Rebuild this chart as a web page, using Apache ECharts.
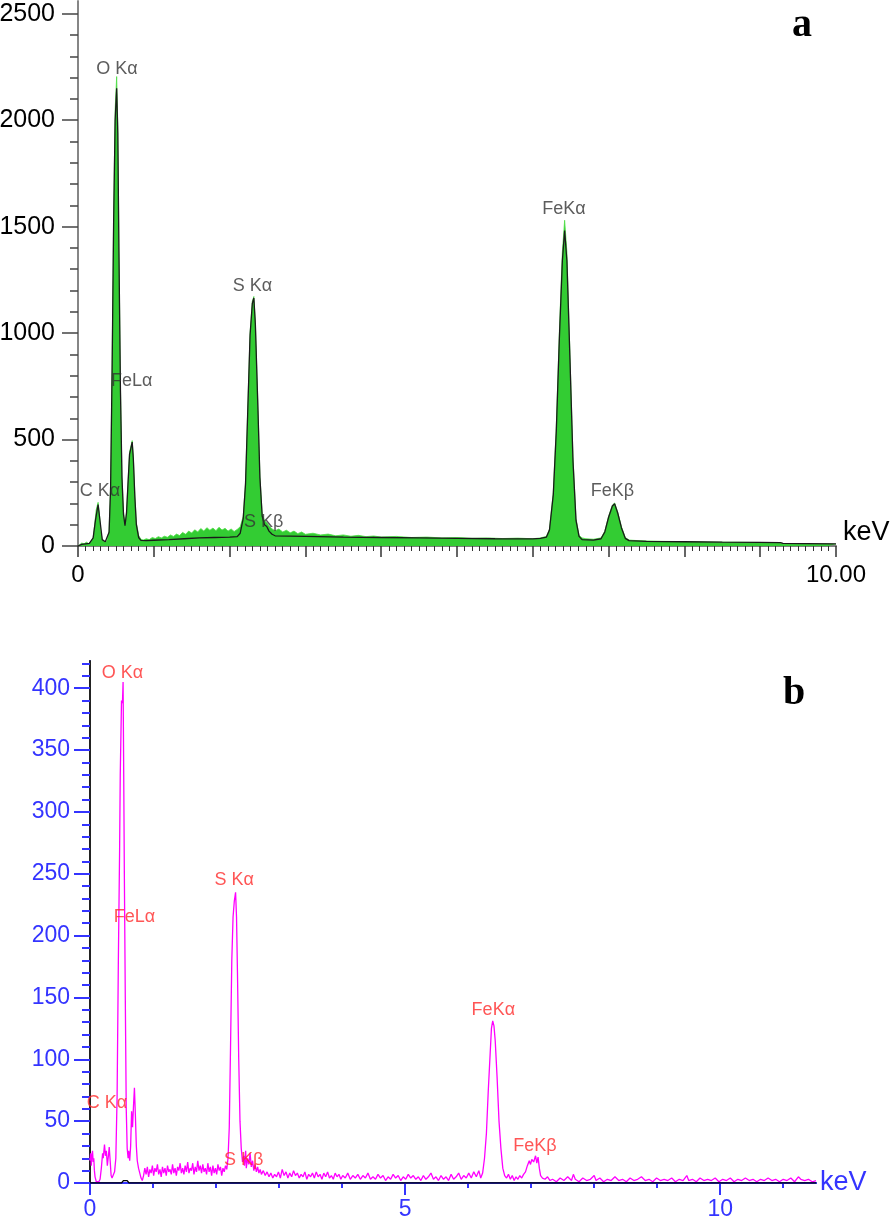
<!DOCTYPE html>
<html>
<head>
<meta charset="utf-8">
<script src="https://cdn.jsdelivr.net/npm/echarts@6/dist/echarts.min.js"></script>
<style>
html,body{margin:0;padding:0;background:#fff;}
#chart{width:894px;height:1218px;}
</style>
</head>
<body>
<div id="chart"></div>
<script>
// ---------- DATA ----------
// Panel a: measured spectrum (green) [keV, counts]
const specA = [
[0,0],[0.02,8],[0.05,14],[0.08,10],[0.11,18],[0.14,12],[0.17,20],[0.2,40],[0.22,100],[0.24,170],[0.265,205],[0.28,160],[0.30,70],[0.32,30],[0.35,20],[0.38,24],[0.41,70],[0.43,280],[0.45,850],[0.47,1550],[0.49,2050],[0.51,2205],[0.525,1980],[0.54,1400],[0.56,750],[0.58,330],[0.60,160],[0.62,100],[0.64,160],[0.66,300],[0.68,440],[0.715,495],[0.73,420],[0.75,240],[0.77,110],[0.8,50],[0.83,32],[0.86,28],[0.9,34],[0.94,30],[0.98,40],[1.02,35],[1.06,44],[1.1,38],[1.14,46],[1.18,41],[1.22,52],[1.26,45],[1.3,56],[1.34,49],[1.38,64],[1.42,55],[1.46,70],[1.5,61],[1.54,76],[1.58,66],[1.62,82],[1.66,70],[1.7,86],[1.74,74],[1.78,84],[1.82,72],[1.86,88],[1.9,75],[1.94,83],[1.98,70],[2.02,80],[2.06,68],[2.1,78],[2.14,90],[2.18,140],[2.21,300],[2.24,650],[2.27,1000],[2.30,1150],[2.32,1172],[2.34,1050],[2.37,700],[2.40,330],[2.43,150],[2.46,120],[2.49,110],[2.52,95],[2.56,80],[2.6,72],[2.65,80],[2.7,66],[2.75,74],[2.8,62],[2.85,70],[2.9,58],[2.95,66],[3.0,55],[3.1,60],[3.2,52],[3.3,56],[3.4,48],[3.5,52],[3.6,46],[3.7,50],[3.8,44],[3.9,47],[4.0,42],[4.2,45],[4.4,40],[4.6,42],[4.8,38],[5.0,40],[5.2,36],[5.4,38],[5.6,35],[5.8,37],[6.0,34],[6.1,38],[6.18,45],[6.22,80],[6.27,250],[6.31,560],[6.35,1000],[6.39,1380],[6.42,1530],[6.45,1380],[6.49,900],[6.53,420],[6.57,130],[6.61,50],[6.65,38],[6.7,34],[6.8,32],[6.9,38],[6.95,70],[7.0,140],[7.05,192],[7.08,202],[7.12,160],[7.17,90],[7.22,40],[7.27,28],[7.35,26],[7.5,24],[7.7,22],[7.9,21],[8.1,20],[8.3,19],[8.5,18],[8.7,18],[8.9,17],[9.1,16],[9.25,15],[9.3,10],[9.5,11],[9.7,9],[9.9,10],[10.0,9]
];
// Panel a: fitted / outline spectrum (black)
const fitA = [
[0,0],[0.05,8],[0.1,10],[0.15,12],[0.2,38],[0.23,120],[0.265,195],[0.29,120],[0.32,30],[0.36,20],[0.41,65],[0.43,270],[0.45,830],[0.47,1520],[0.49,2000],[0.51,2150],[0.525,1940],[0.54,1380],[0.56,730],[0.58,320],[0.60,150],[0.62,95],[0.64,155],[0.66,295],[0.68,430],[0.715,488],[0.73,410],[0.75,230],[0.77,100],[0.8,40],[0.83,26],[0.9,25],[1.0,27],[1.2,30],[1.4,34],[1.6,38],[1.8,40],[2.0,42],[2.1,44],[2.14,60],[2.18,130],[2.21,290],[2.24,640],[2.27,990],[2.30,1140],[2.32,1165],[2.34,1040],[2.37,690],[2.40,320],[2.43,140],[2.46,100],[2.49,92],[2.52,70],[2.56,55],[2.6,48],[3.0,45],[3.5,42],[4.0,40],[4.5,38],[5.0,36],[5.5,34],[6.0,33],[6.1,36],[6.18,42],[6.22,75],[6.27,240],[6.31,540],[6.35,970],[6.39,1340],[6.42,1482],[6.45,1340],[6.49,880],[6.53,400],[6.57,120],[6.61,45],[6.65,30],[6.8,28],[6.9,34],[6.95,66],[7.0,135],[7.05,188],[7.08,198],[7.12,155],[7.17,85],[7.22,36],[7.27,25],[7.5,22],[8.0,20],[8.5,18],[9.0,17],[9.27,16],[9.3,12],[9.6,11],[10.0,10]
];
// Panel b: measured spectrum (magenta)
const specB = [
[0,18],[0.01,24],[0.02,14],[0.03,22],[0.04,26],[0.05,17],[0.06,20],[0.07,10],[0.08,5],[0.1,1],[0.12,0],[0.14,1],[0.16,3],[0.18,12],[0.2,24],[0.21,20],[0.23,31],[0.245,22],[0.26,26],[0.275,14],[0.29,21],[0.305,29],[0.32,18],[0.335,6],[0.35,4],[0.37,5],[0.39,9],[0.41,20],[0.43,70],[0.45,180],[0.47,270],[0.48,330],[0.5,390],[0.515,388],[0.525,405],[0.535,330],[0.545,250],[0.56,150],[0.575,60],[0.59,28],[0.605,20],[0.615,26],[0.63,18],[0.645,30],[0.66,58],[0.675,45],[0.69,62],[0.705,77],[0.72,55],[0.735,30],[0.75,18],[0.77,12],[0.79,8],[0.81,4],[0.83,2],[0.85,6],[0.87,12],[0.89,7],[0.91,13],[0.93,5],[0.95,11],[0.97,8],[0.99,14],[1.01,6],[1.03,12],[1.05,9],[1.07,15],[1.09,7],[1.11,11],[1.13,5],[1.15,13],[1.17,8],[1.19,12],[1.21,6],[1.23,14],[1.25,9],[1.27,11],[1.29,7],[1.31,15],[1.33,8],[1.35,12],[1.37,6],[1.39,13],[1.41,10],[1.43,16],[1.45,8],[1.47,12],[1.49,7],[1.51,14],[1.53,9],[1.55,17],[1.57,8],[1.59,12],[1.61,10],[1.63,16],[1.65,7],[1.67,13],[1.69,9],[1.71,18],[1.73,10],[1.75,14],[1.77,8],[1.79,15],[1.81,9],[1.83,12],[1.85,7],[1.87,16],[1.89,9],[1.91,13],[1.93,6],[1.95,14],[1.97,8],[1.99,12],[2.01,7],[2.03,15],[2.05,10],[2.07,13],[2.09,6],[2.11,12],[2.13,9],[2.15,14],[2.17,11],[2.19,20],[2.21,45],[2.23,110],[2.25,180],[2.27,215],[2.29,228],[2.31,235],[2.325,215],[2.34,170],[2.36,100],[2.38,50],[2.40,28],[2.42,17],[2.44,22],[2.45,14],[2.47,26],[2.48,12],[2.50,20],[2.52,15],[2.54,24],[2.56,13],[2.58,18],[2.60,10],[2.62,15],[2.64,9],[2.66,13],[2.68,8],[2.70,11],[2.72,7],[2.75,10],[2.78,6],[2.81,9],[2.84,5],[2.87,8],[2.90,4],[2.93,7],[2.96,5],[2.99,9],[3.02,4],[3.05,11],[3.08,6],[3.11,9],[3.14,4],[3.17,8],[3.2,5],[3.23,10],[3.26,6],[3.29,8],[3.32,4],[3.35,7],[3.38,5],[3.41,9],[3.44,3],[3.47,7],[3.5,5],[3.53,8],[3.56,4],[3.59,9],[3.62,5],[3.65,7],[3.68,3],[3.71,8],[3.74,5],[3.77,9],[3.8,4],[3.83,6],[3.86,3],[3.89,8],[3.92,5],[3.95,7],[3.98,3],[4.01,6],[4.05,4],[4.09,8],[4.13,3],[4.17,6],[4.21,4],[4.25,7],[4.29,3],[4.33,6],[4.37,4],[4.41,8],[4.45,3],[4.49,5],[4.53,3],[4.57,7],[4.61,4],[4.65,6],[4.69,2],[4.73,5],[4.77,3],[4.81,7],[4.85,4],[4.89,6],[4.93,2],[4.97,5],[5.01,3],[5.05,7],[5.09,4],[5.13,6],[5.17,3],[5.21,5],[5.25,2],[5.29,6],[5.33,3],[5.37,5],[5.41,8],[5.45,3],[5.49,5],[5.53,2],[5.57,6],[5.61,3],[5.65,5],[5.69,2],[5.73,7],[5.77,3],[5.81,5],[5.85,8],[5.89,3],[5.93,6],[5.97,4],[6.01,8],[6.05,4],[6.09,9],[6.13,5],[6.17,10],[6.2,4],[6.23,8],[6.26,20],[6.29,40],[6.32,75],[6.35,105],[6.37,125],[6.39,131],[6.41,127],[6.43,115],[6.46,85],[6.49,50],[6.52,28],[6.55,12],[6.58,6],[6.61,4],[6.64,7],[6.67,3],[6.70,6],[6.73,2],[6.76,5],[6.79,3],[6.82,6],[6.85,4],[6.88,7],[6.91,9],[6.94,14],[6.97,18],[6.99,15],[7.01,19],[7.04,17],[7.07,22],[7.09,16],[7.11,21],[7.13,12],[7.15,6],[7.18,4],[7.22,3],[7.26,5],[7.3,2],[7.34,3],[7.4,1],[7.46,4],[7.52,2],[7.58,5],[7.64,2],[7.67,7],[7.7,3],[7.76,1],[7.82,4],[7.88,2],[7.94,3],[8.0,6],[8.03,2],[8.09,4],[8.15,1],[8.21,3],[8.27,2],[8.33,5],[8.39,2],[8.45,3],[8.51,1],[8.57,4],[8.63,2],[8.69,3],[8.75,5],[8.81,2],[8.87,3],[8.93,1],[8.99,4],[9.05,2],[9.11,3],[9.17,2],[9.23,4],[9.29,1],[9.35,3],[9.41,2],[9.47,6],[9.5,2],[9.56,3],[9.62,1],[9.68,4],[9.74,2],[9.8,3],[9.86,2],[9.92,4],[9.98,1],[10.04,3],[10.1,2],[10.16,4],[10.22,1],[10.28,3],[10.34,2],[10.4,4],[10.46,2],[10.52,3],[10.58,1],[10.64,3],[10.7,2],[10.76,4],[10.82,2],[10.88,3],[10.94,1],[11.0,3],[11.06,2],[11.12,4],[11.18,1],[11.24,5],[11.28,3],[11.34,2],[11.4,3],[11.46,1],[11.52,2]
];
// Panel b: background fit (black)
const fitB = [[0,0],[0.5,0],[0.53,2],[0.56,3.5],[0.59,2],[0.62,0],[11.52,0]];

// Peak labels
const peakNames = ['C Kα','O Kα','FeLα','S Kα','S Kβ','FeKα','FeKβ'];
const peakAx = [0.29, 0.515, 0.71, 2.30, 2.45, 6.41, 7.05];
const peakAy = [256, 2242, 774, 1220, 113, 1583, 256];
const peakBx = [0.27, 0.516, 0.706, 2.29, 2.44, 6.40, 7.06];
const peakBy = [64.6, 412, 215, 245, 18.6, 140, 30];

// Axis ticks
const xMaxA = 10, yMaxA = 2560;
const xMaxB = 11.52, yMaxB = 422;
const yMajorA = [0, 500, 1000, 1500, 2000, 2500];
const xMajorA = [0,1,2,3,4,5,6,7,8,9,10];
const xLabelA = [0, 10];
const yMajorB = [0, 50, 100, 150, 200, 250, 300, 350, 400];
const xMajorB = [0, 5, 10];

function steps(step, max, skip) {
  const out = [];
  for (let i = 1; i * step <= max + 1e-9; i++) {
    const v = +(i * step).toFixed(3);
    if (skip && Math.abs(v / skip - Math.round(v / skip)) < 1e-6) continue;
    out.push(v);
  }
  return out;
}
const yMinorA = steps(100, 2500, 500);
const xMinorA = steps(0.1, 10, 1);
const yMinorB = steps(10, 420, 50);
const xMinorB = steps(1, 11, 5);

// ---------- CHART ----------
const FONT = 'Liberation Sans, Arial, sans-serif';
const BLUE = '#3434ff';
const gridA = {left: 78, top: 1, width: 758, height: 545, outerBoundsMode: 'none', containLabel: false};
const gridB = {left: 90, top: 661, width: 726, height: 522, outerBoundsMode: 'none', containLabel: false};

function bareAxis(extra) {
  return Object.assign({
    type: 'value', splitLine: {show: false},
    axisLabel: {show: false}, axisTick: {show: false}
  }, extra);
}
const plain = v => String(v);

const chart = echarts.init(document.getElementById('chart'), null, {renderer: 'canvas'});
chart.setOption({
  animation: false,
  backgroundColor: '#fff',
  grid: [gridA, Object.assign({}, gridA), gridB, Object.assign({}, gridB)],
  xAxis: [
    bareAxis({gridIndex: 0, position: 'bottom', min: 0, max: xMaxA,
      axisLine: {lineStyle: {color: '#333', width: 1.5}},
      axisTick: {show: true, customValues: xMajorA, length: 11, lineStyle: {color: '#333', width: 1.5}},
      axisLabel: {show: true, customValues: xLabelA, margin: 17, fontSize: 24, color: '#000', fontFamily: FONT,
        formatter: v => v === 10 ? '10.00' : String(v)},
      name: 'keV', nameLocation: 'end', nameGap: 7,
      nameTextStyle: {fontSize: 27, color: '#000', fontFamily: FONT, verticalAlign: 'bottom'}}),
    bareAxis({gridIndex: 0, position: 'top', min: 0, max: xMaxA,
      axisLine: {lineStyle: {color: '#888', width: 1.5}}}),
    bareAxis({gridIndex: 1, position: 'bottom', min: 0, max: xMaxA,
      axisLine: {show: false},
      axisTick: {show: true, customValues: xMinorA, length: 5, lineStyle: {color: '#333', width: 1}}}),
    bareAxis({gridIndex: 2, position: 'bottom', min: 0, max: xMaxB,
      axisLine: {lineStyle: {color: '#000', width: 2}},
      axisTick: {show: true, customValues: xMajorB, length: 12, lineStyle: {color: BLUE, width: 2}},
      axisLabel: {show: true, customValues: xMajorB, margin: 15, fontSize: 23, color: BLUE, fontFamily: FONT, formatter: plain},
      name: 'keV', nameLocation: 'end', nameGap: 4,
      nameTextStyle: {fontSize: 27, color: BLUE, fontFamily: FONT, verticalAlign: 'middle', padding: [0, 0, 12, 0]}}),
    bareAxis({gridIndex: 2, position: 'top', min: 0, max: xMaxB,
      axisLine: {lineStyle: {color: BLUE, width: 2}}}),
    bareAxis({gridIndex: 3, position: 'bottom', min: 0, max: xMaxB,
      axisLine: {show: false},
      axisTick: {show: true, customValues: xMinorB, length: 5, lineStyle: {color: BLUE, width: 2}}})
  ],
  yAxis: [
    bareAxis({gridIndex: 0, position: 'left', min: 0, max: yMaxA,
      axisLine: {show: true, lineStyle: {color: '#555', width: 1.5}},
      axisTick: {show: true, customValues: yMajorA, length: 16, lineStyle: {color: '#444', width: 1.5}},
      axisLabel: {show: true, customValues: yMajorA, margin: 23, fontSize: 25, color: '#000', fontFamily: FONT, formatter: plain}}),
    bareAxis({gridIndex: 0, position: 'right', min: 0, max: yMaxA,
      axisLine: {show: true, lineStyle: {color: '#888', width: 1.5}}}),
    bareAxis({gridIndex: 1, position: 'left', min: 0, max: yMaxA,
      axisLine: {show: false},
      axisTick: {show: true, customValues: yMinorA, length: 8, lineStyle: {color: '#444', width: 1.5}}}),
    bareAxis({gridIndex: 2, position: 'left', min: 0, max: yMaxB,
      axisLine: {show: true, lineStyle: {color: BLUE, width: 2}},
      axisTick: {show: true, customValues: yMajorB, length: 16, lineStyle: {color: BLUE, width: 2}},
      axisLabel: {show: true, customValues: yMajorB, margin: 20, fontSize: 23, color: BLUE, fontFamily: FONT, formatter: plain}}),
    bareAxis({gridIndex: 2, position: 'right', min: 0, max: yMaxB,
      axisLine: {show: true, lineStyle: {color: '#222', width: 2}}}),
    bareAxis({gridIndex: 3, position: 'left', min: 0, max: yMaxB,
      axisLine: {show: false},
      axisTick: {show: true, customValues: yMinorB, length: 8, lineStyle: {color: BLUE, width: 2}}})
  ],
  series: [
    {type: 'line', xAxisIndex: 0, yAxisIndex: 0, data: specA, showSymbol: false, symbol: 'none',
      lineStyle: {color: '#4ddd44', width: 0.8}, areaStyle: {color: '#33cc33', opacity: 1}, z: 2},
    {type: 'line', xAxisIndex: 0, yAxisIndex: 0, data: fitA, showSymbol: false, symbol: 'none',
      lineStyle: {color: '#1a1a1a', width: 1.3}, z: 3},
    {type: 'scatter', xAxisIndex: 0, yAxisIndex: 0, symbolSize: 1, itemStyle: {color: 'transparent'},
      data: peakNames.map((n, i) => ({name: n, value: [peakAx[i], peakAy[i]]})),
      label: {show: true, position: 'inside', formatter: '{b}', color: '#333', fontSize: 18, fontFamily: FONT}, z: 5},
    {type: 'line', xAxisIndex: 3, yAxisIndex: 3, data: specB, showSymbol: false, symbol: 'none',
      lineStyle: {color: '#ff00ff', width: 1.3}, z: 2},
    {type: 'line', xAxisIndex: 3, yAxisIndex: 3, data: fitB, showSymbol: false, symbol: 'none',
      lineStyle: {color: '#000', width: 1.3}, z: 3},
    {type: 'scatter', xAxisIndex: 3, yAxisIndex: 3, symbolSize: 1, itemStyle: {color: 'transparent'},
      data: peakNames.map((n, i) => ({name: n, value: [peakBx[i], peakBy[i]]})),
      label: {show: true, position: 'inside', formatter: '{b}', color: '#ff2a2a', fontSize: 18, fontFamily: FONT}, z: 5}
  ],
  graphic: [
    {type: 'text', left: 792, top: 6, style: {text: 'a', font: 'bold 40px "Liberation Serif", "Times New Roman", serif', fill: '#000'}},
    {type: 'text', left: 783, top: 674, style: {text: 'b', font: 'bold 40px "Liberation Serif", "Times New Roman", serif', fill: '#000'}}
  ]
});
</script>
</body>
</html>
